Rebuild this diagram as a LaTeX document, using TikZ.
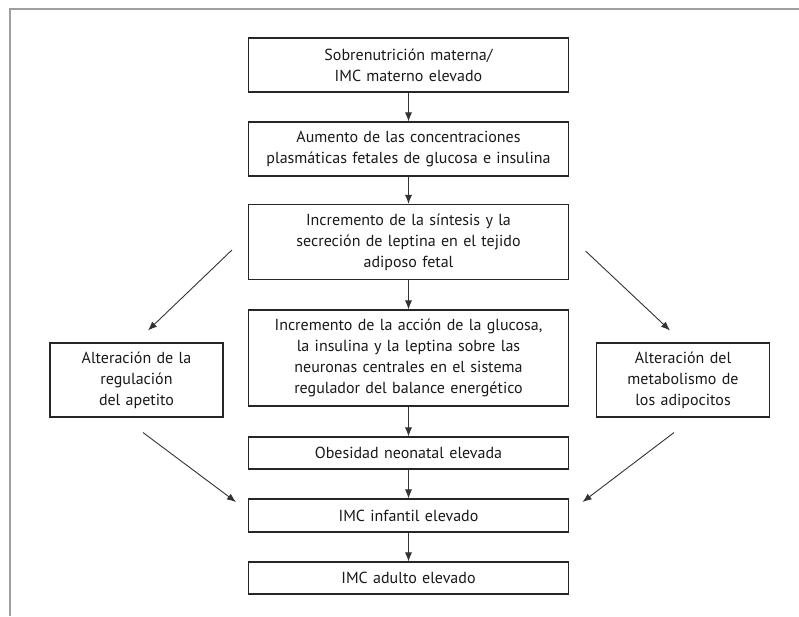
\documentclass[tikz,border=0pt]{standalone}
\usepackage{fontspec}
\setmainfont{PT Sans}
\usetikzlibrary{arrows.meta}
\begin{document}
\begin{tikzpicture}[x=1pt, y=-1pt,
    box/.style = {shape=rectangle, draw=black!85, line width=1.1pt,
      align=center, inner xsep=4pt, inner ysep=2pt, text=black!90,
      font=\fontsize{16}{21}\selectfont},
    mainbox/.style = {box, text width=312pt},
    sidebox/.style = {box, text width=165pt, minimum height=74pt},
    arr/.style = {draw=black!80, line width=0.9pt, -{Latex[length=9pt,width=7pt]}}]
  \useasboundingbox (0,0) rectangle (799,616);
  \draw[gray!75, line width=2pt] (9.5,616) -- (9.5,9) -- (799,9);
  % central chain
  \node[mainbox, minimum height=54pt] (sobre) at (408.5,65)
    {Sobrenutrición materna/\\IMC materno elevado};
  \node[mainbox, minimum height=54pt] (aumento) at (408.5,149)
    {Aumento de las concentraciones\\plasmáticas fetales de glucosa e insulina};
  \node[mainbox, minimum height=75pt] (leptina) at (408.5,242)
    {Incremento de la síntesis y la\\secreción de leptina en el tejido\\adiposo fetal};
  \node[mainbox, minimum height=96pt] (accion) at (408.5,358)
    {Incremento de la acción de la glucosa,\\la insulina y la leptina sobre las\\neuronas centrales en el sistema\\regulador del balance energético};
  \node[mainbox, minimum height=32pt] (obesidad) at (408.5,453)
    {Obesidad neonatal elevada};
  \node[mainbox, minimum height=33pt] (infantil) at (408.5,515.5)
    {IMC infantil elevado};
  \node[mainbox, minimum height=32pt] (adulto) at (408.5,578)
    {IMC adulto elevado};
  % side boxes
  \node[sidebox] (apetito) at (136.5,380)
    {Alteración de la\\regulación\\del apetito};
  \node[sidebox] (adipo) at (683,380)
    {Alteración del\\metabolismo de\\los adipocitos};
  % arrows
  \draw[arr] (sobre) -- (aumento);
  \draw[arr] (aumento) -- (leptina);
  \draw[arr] (leptina) -- (accion);
  \draw[arr] (accion) -- (obesidad);
  \draw[arr] (obesidad) -- (infantil);
  \draw[arr] (infantil) -- (adulto);
  \draw[arr] ([shift={(-16,8)}]leptina.west) -- ([shift={(11.5,-12)}]apetito.north);
  \draw[arr] ([shift={(16.5,9)}]leptina.east) -- ([shift={(-13,-12)}]adipo.north);
  \draw[arr] ([shift={(6.5,15)}]apetito.south) -- ([shift={(-12,-13.5)}]infantil.west);
  \draw[arr] ([shift={(-9,15)}]adipo.south) -- ([shift={(13.5,-13.5)}]infantil.east);
\end{tikzpicture}
\end{document}
